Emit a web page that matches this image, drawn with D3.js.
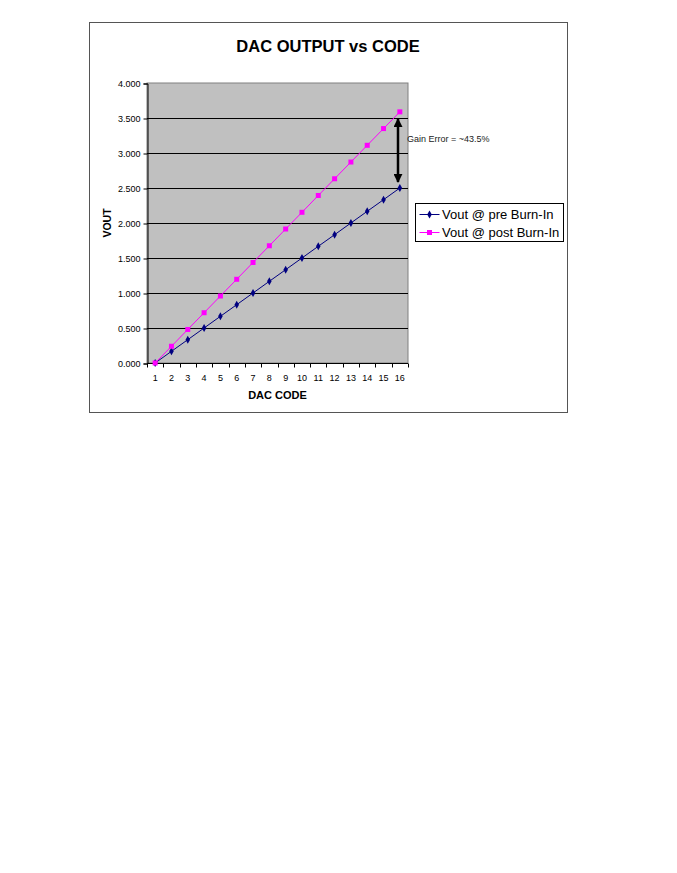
<!DOCTYPE html>
<html>
<head>
<meta charset="utf-8">
<script src="https://cdn.jsdelivr.net/npm/d3@7"></script>
<style>
  body { margin: 0; background: #fff; }
  svg { display: block; font-family: Arial, "Liberation Sans", sans-serif; }
</style>
</head>
<body>
<svg id="chart" width="677" height="873"></svg>
<script>
// data
const codes = d3.range(1, 17).map(String);
const preBurnIn = [0, 0.167, 0.333, 0.5, 0.667, 0.833, 1.0, 1.167, 1.333, 1.5, 1.667, 1.833, 2.0, 2.167, 2.333, 2.5];
const postBurnIn = [0, 0.239, 0.479, 0.718, 0.957, 1.196, 1.436, 1.675, 1.914, 2.153, 2.393, 2.632, 2.871, 3.11, 3.349, 3.588];
const yTicks = [0, 0.5, 1, 1.5, 2, 2.5, 3, 3.5, 4];
const seriesNames = ["Vout @ pre Burn-In", "Vout @ post Burn-In"];

const svg = d3.select("#chart");

// outer chart frame
svg.append("rect")
    .attr("x", 89.5).attr("y", 22.5)
    .attr("width", 478).attr("height", 390)
    .attr("fill", "#fff").attr("stroke", "#555").attr("stroke-width", 1);

const plot = { left: 147, right: 408, top: 83, bottom: 363 };

const x = d3.scaleBand()
    .domain(codes)
    .range([plot.left, plot.right]);

const y = d3.scaleLinear()
    .domain([0, 4])
    .range([plot.bottom, plot.top]);

// plot background
svg.append("rect")
    .attr("x", plot.left).attr("y", plot.top)
    .attr("width", plot.right - plot.left).attr("height", plot.bottom - plot.top)
    .attr("fill", "#c0c0c0").attr("stroke", "#808080");

// gridlines
svg.append("g")
    .selectAll("line")
    .data(yTicks.slice(1, -1))
    .join("line")
    .attr("x1", plot.left).attr("x2", plot.right)
    .attr("y1", d => y(d) + 0.5).attr("y2", d => y(d) + 0.5)
    .attr("stroke", "#000").attr("stroke-width", 1);

// y axis
const yAxis = svg.append("g")
    .attr("transform", `translate(${plot.left + 0.5},0.5)`)
    .call(d3.axisLeft(y).tickValues(yTicks).tickFormat(d3.format(".3f")).tickSize(4).tickPadding(3));
yAxis.select(".domain").attr("stroke", "#000");
yAxis.selectAll("text").attr("font-size", 9).attr("font-family", "Arial, 'Liberation Sans', sans-serif").attr("fill", "#000");

// x axis: ticks on category boundaries, labels centered
const xAxis = svg.append("g").attr("transform", `translate(0,${plot.bottom + 0.5})`);
xAxis.append("line")
    .attr("x1", plot.left).attr("x2", plot.right)
    .attr("stroke", "#000");
xAxis.selectAll("line.tk")
    .data(codes.concat(["end"]))
    .join("line")
    .attr("class", "tk")
    .attr("x1", (d, i) => Math.round(plot.left + i * x.step()) + 0.5)
    .attr("x2", (d, i) => Math.round(plot.left + i * x.step()) + 0.5)
    .attr("y1", 0).attr("y2", 4)
    .attr("stroke", "#000");
xAxis.selectAll("text")
    .data(codes)
    .join("text")
    .attr("x", d => x(d) + x.bandwidth() / 2)
    .attr("y", 17)
    .attr("text-anchor", "middle")
    .attr("font-size", 9)
    .text(d => d);

// lines
const cx = (d, i) => x(codes[i]) + x.bandwidth() / 2;
const line = d3.line().x(cx).y(d => y(d));

svg.append("path")
    .attr("d", line(preBurnIn))
    .attr("fill", "none").attr("stroke", "#000080").attr("stroke-width", 1);
svg.append("path")
    .attr("d", line(postBurnIn))
    .attr("fill", "none").attr("stroke", "#ff00ff").attr("stroke-width", 1);

// markers
svg.append("g").selectAll("path")
    .data(preBurnIn)
    .join("path")
    .attr("transform", (d, i) => `translate(${cx(d, i)},${y(d)})`)
    .attr("d", d3.symbol(d3.symbolDiamond, 18))
    .attr("fill", "#000080");
svg.append("g").selectAll("rect")
    .data(postBurnIn)
    .join("rect")
    .attr("x", (d, i) => cx(d, i) - 2.5)
    .attr("y", d => y(d) - 2.5)
    .attr("width", 5).attr("height", 5)
    .attr("fill", "#ff00ff");

// gain error arrow
const arrowX = 398;
svg.append("defs").append("marker")
    .attr("id", "head")
    .attr("viewBox", "0 0 10 10")
    .attr("refX", 9).attr("refY", 5)
    .attr("markerWidth", 3.6).attr("markerHeight", 3.6)
    .attr("orient", "auto-start-reverse")
    .append("path").attr("d", "M0,0L10,5L0,10z").attr("fill", "#000");
svg.append("line")
    .attr("x1", arrowX).attr("x2", arrowX)
    .attr("y1", y(postBurnIn[15]) + 7).attr("y2", y(preBurnIn[15]) - 6)
    .attr("stroke", "#000").attr("stroke-width", 2.5)
    .attr("marker-start", "url(#head)").attr("marker-end", "url(#head)");
svg.append("text")
    .attr("x", 407).attr("y", 142)
    .attr("font-size", 9)
    .attr("fill", "#222")
    .text("Gain Error = ~43.5%");

// legend
const legend = svg.append("g").attr("transform", "translate(415.5,203.5)");
legend.append("rect")
    .attr("width", 148).attr("height", 38)
    .attr("fill", "#fff").attr("stroke", "#000");
const colors = ["#000080", "#ff00ff"];
seriesNames.forEach((name, i) => {
    const ly = 11 + i * 18;
    legend.append("line")
        .attr("x1", 4).attr("x2", 24).attr("y1", ly).attr("y2", ly)
        .attr("stroke", colors[i]);
    if (i === 0) {
        legend.append("path")
            .attr("transform", `translate(14,${ly})`)
            .attr("d", d3.symbol(d3.symbolDiamond, 18))
            .attr("fill", colors[i]);
    } else {
        legend.append("rect")
            .attr("x", 11.5).attr("y", ly - 2.5).attr("width", 5).attr("height", 5)
            .attr("fill", colors[i]);
    }
    legend.append("text")
        .attr("x", 26.5).attr("y", ly + 4.5)
        .attr("font-size", 13)
        .text(name);
});

// titles
svg.append("text")
    .attr("x", 328).attr("y", 52)
    .attr("text-anchor", "middle")
    .attr("font-size", 16.5).attr("font-weight", "bold")
    .text("DAC OUTPUT vs CODE");
svg.append("text")
    .attr("x", (plot.left + plot.right) / 2).attr("y", 399)
    .attr("text-anchor", "middle")
    .attr("font-size", 11).attr("font-weight", "bold")
    .text("DAC CODE");
svg.append("text")
    .attr("transform", `translate(111,${(plot.top + plot.bottom) / 2}) rotate(-90)`)
    .attr("text-anchor", "middle")
    .attr("font-size", 10.5).attr("font-weight", "bold")
    .text("VOUT");
</script>
</body>
</html>
